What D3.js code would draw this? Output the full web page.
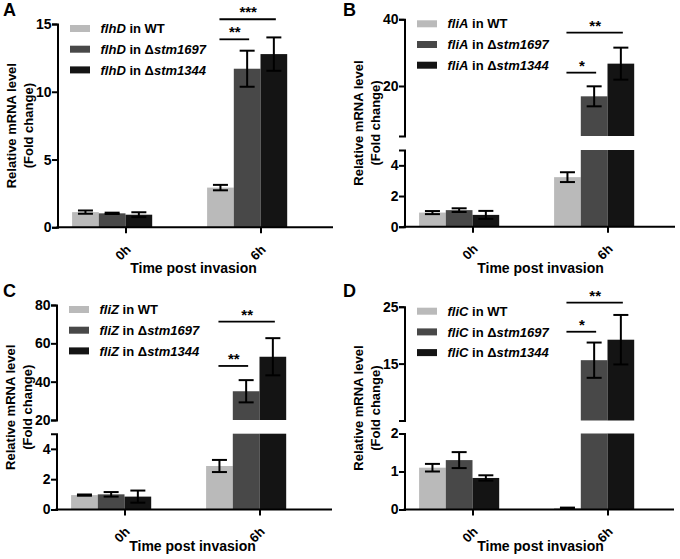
<!DOCTYPE html>
<html><head><meta charset="utf-8">
<script src="https://cdn.jsdelivr.net/npm/d3@7"></script>
<style>
body{margin:0;background:#fff}
svg{display:block}
text{font-family:"Liberation Sans",Arial,sans-serif;font-weight:bold;fill:#000}
</style>
</head><body>
<svg id="chart" width="680" height="559"></svg>
<script>
// ---------- data ----------
const timepoints = ["0h", "6h"];
const strains = ["WT", "stm1697", "stm1344"];
const panelLetters = ["A", "B", "C", "D"];
const genes = ["flhD", "fliA", "fliZ", "fliC"];
const xTitle = "Time post invasion";
const yTitle1 = "Relative mRNA level";
const yTitle2 = "(Fold change)";

// flhD (A)
const flhD_WT = [1.12, 2.93],  flhD_WT_err = [0.12, 0.20];
const flhD_1697 = [1.03, 11.7], flhD_1697_err = [0.05, 1.33];
const flhD_1344 = [0.93, 12.78], flhD_1344_err = [0.18, 1.23];
const flhD_ticks = [0, 5, 10, 15];

// fliA (B)
const fliA_WT = [0.92, 3.23],  fliA_WT_err = [0.10, 0.32];
const fliA_1697 = [1.08, 16.9], fliA_1697_err = [0.12, 3.0];
const fliA_1344 = [0.77, 26.7], fliA_1344_err = [0.26, 4.8];
const fliA_ticksLow = [0, 2, 4], fliA_ticksHigh = [20, 40];

// fliZ (C)
const fliZ_WT = [0.95, 2.87],  fliZ_WT_err = [0.04, 0.40];
const fliZ_1697 = [1.0, 35.0],  fliZ_1697_err = [0.15, 5.8];
const fliZ_1344 = [0.85, 53.0], fliZ_1344_err = [0.40, 9.7];
const fliZ_ticksLow = [0, 2, 4], fliZ_ticksHigh = [20, 40, 60, 80];

// fliC (D)
const fliC_WT = [1.10, 0.04],  fliC_WT_err = [0.10, 0.01];
const fliC_1697 = [1.30, 15.6], fliC_1697_err = [0.21, 3.1];
const fliC_1344 = [0.83, 19.2], fliC_1344_err = [0.07, 4.35];
const fliC_ticksLow = [0, 1, 2], fliC_ticksHigh = [15, 25];

// significance brackets at 6h: [from, to, level(value), label]
const flhD_sig = [["WT", "stm1344", 15.35, "***"], ["WT", "stm1697", 13.87, "**"]];
const fliA_sig = [["WT", "stm1344", 36.0, "**"], ["WT", "stm1697", 24.0, "*"]];
const fliZ_sig = [["WT", "stm1344", 71.3, "**"], ["WT", "stm1697", 48.2, "**"]];
const fliC_sig = [["WT", "stm1344", 25.7, "**"], ["WT", "stm1697", 20.6, "*"]];

// ---------- style / layout ----------
const colors = ["#bababa", "#484848", "#141414"];
const barW = 26.7;

const panels = [
  { letter: panelLetters[0], gene: genes[0], lx: 3, ly: 16,
    left: 57.5, right: 333, bottom: 227.3, top: 24, xTitleY: 273,
    means: [flhD_WT, flhD_1697, flhD_1344], errs: [flhD_WT_err, flhD_1697_err, flhD_1344_err],
    segments: [{ domain: [0, 15], range: [227.3, 24], ticks: flhD_ticks }], sig: flhD_sig },
  { letter: panelLetters[1], gene: genes[1], lx: 343, ly: 16,
    left: 404.5, right: 675, bottom: 226.7, top: 19.3, xTitleY: 273,
    means: [fliA_WT, fliA_1697, fliA_1344], errs: [fliA_WT_err, fliA_1697_err, fliA_1344_err],
    segments: [{ domain: [0, 5], range: [226.7, 150], ticks: fliA_ticksLow },
               { domain: [5, 40], range: [136, 19.3], ticks: fliA_ticksHigh }], sig: fliA_sig },
  { letter: panelLetters[2], gene: genes[2], lx: 3, ly: 297,
    left: 56.5, right: 332, bottom: 509.5, top: 305, xTitleY: 551,
    means: [fliZ_WT, fliZ_1697, fliZ_1344], errs: [fliZ_WT_err, fliZ_1697_err, fliZ_1344_err],
    segments: [{ domain: [0, 5], range: [509.5, 433.7], ticks: fliZ_ticksLow },
               { domain: [20, 80], range: [420, 305], ticks: fliZ_ticksHigh }], sig: fliZ_sig },
  { letter: panelLetters[3], gene: genes[3], lx: 343, ly: 297,
    left: 404.5, right: 674, bottom: 509.5, top: 306.7, xTitleY: 551,
    means: [fliC_WT, fliC_1697, fliC_1344], errs: [fliC_WT_err, fliC_1697_err, fliC_1344_err],
    segments: [{ domain: [0, 2], range: [509.5, 433.5], ticks: fliC_ticksLow },
               { domain: [5, 25], range: [420.5, 306.7], ticks: fliC_ticksHigh }], sig: fliC_sig }
];

const svg = d3.select("#chart");

function drawPanel(p) {
  const g = svg.append("g");
  const x = d3.scalePoint().domain(timepoints).range([p.left + 68, p.left + 203]);
  const inner = d3.scaleBand().domain(strains).range([-2 * barW, barW]);
  const segs = p.segments.map(s => Object.assign({}, s, { y: d3.scaleLinear().domain(s.domain).range(s.range) }));
  const cx = (tp, st) => x(tp) + inner(st) + barW / 2;

  // bars
  strains.forEach((st, si) => {
    timepoints.forEach((tp, ti) => {
      const v = p.means[si][ti];
      segs.forEach(s => {
        if (v > s.domain[0]) {
          const y0 = s.y(s.domain[0]), y1 = s.y(Math.min(v, s.domain[1]));
          g.append("rect")
            .attr("x", x(tp) + inner(st)).attr("width", barW)
            .attr("y", y1).attr("height", y0 - y1)
            .attr("fill", colors[si]);
        }
      });
    });
  });

  // error bars
  strains.forEach((st, si) => {
    timepoints.forEach((tp, ti) => {
      const v = p.means[si][ti], e = p.errs[si][ti];
      let seg = segs[0];
      segs.forEach(s => { if (v >= s.domain[0]) seg = s; });
      const c = cx(tp, st);
      const yHi = seg.y(v + e), yLo = seg.y(Math.max(v - e, seg.domain[0]));
      const eg = g.append("g").attr("stroke", "#000").attr("stroke-width", 2);
      eg.append("line").attr("x1", c).attr("x2", c).attr("y1", yHi).attr("y2", yLo);
      eg.append("line").attr("x1", c - 7.5).attr("x2", c + 7.5).attr("y1", yHi).attr("y2", yHi);
      eg.append("line").attr("x1", c - 7.5).attr("x2", c + 7.5).attr("y1", yLo).attr("y2", yLo);
    });
  });

  // y axis segments
  segs.forEach(s => {
    const ax = g.append("g").attr("transform", `translate(${p.left},0)`)
      .call(d3.axisLeft(s.y).tickValues(s.ticks).tickFormat(d3.format("d"))
        .tickSize(5.5).tickSizeOuter(5.5).tickPadding(0.5));
    ax.attr("font-family", null).attr("font-size", null);
    ax.select(".domain").attr("stroke", "#000").attr("stroke-width", 2);
    ax.selectAll(".tick line").attr("stroke", "#000").attr("stroke-width", 2);
    ax.selectAll(".tick text").style("font-size", "14px").attr("fill", "#000");
  });

  // x axis
  const xa = g.append("g").attr("transform", `translate(0,${p.bottom})`)
    .call(d3.axisBottom(x).tickSize(6).tickSizeOuter(0));
  xa.select(".domain").remove();
  xa.selectAll(".tick text").remove();
  xa.selectAll(".tick line").attr("stroke", "#000").attr("stroke-width", 2);
  g.append("line").attr("x1", p.left - 1).attr("x2", p.right)
    .attr("y1", p.bottom).attr("y2", p.bottom)
    .attr("stroke", "#000").attr("stroke-width", 2);
  timepoints.forEach(tp => {
    g.append("text")
      .attr("transform", `translate(${x(tp) + 6},${p.bottom + 23}) rotate(-45)`)
      .attr("text-anchor", "end").style("font-size", "13px").text(tp);
  });

  // x title
  g.append("text").attr("x", p.left + 136).attr("y", p.xTitleY)
    .attr("text-anchor", "middle").style("font-size", "14px").text(xTitle);

  // y title
  const ymid = (p.top + p.bottom) / 2;
  g.append("text").attr("transform", `translate(${p.left - 46 + 4.6},${ymid}) rotate(-90)`)
    .attr("text-anchor", "middle").style("font-size", "13px").text(yTitle1);
  g.append("text").attr("transform", `translate(${p.left - 29.5 + 4.6},${ymid}) rotate(-90)`)
    .attr("text-anchor", "middle").style("font-size", "13px").text(yTitle2);

  // significance
  const top = segs[segs.length - 1].y;
  p.sig.forEach(([a, b, lv, lab]) => {
    const x1 = cx("6h", a), x2 = cx("6h", b) + 2, yy = top(lv);
    g.append("line").attr("x1", x1 - 1).attr("x2", x2).attr("y1", yy).attr("y2", yy)
      .attr("stroke", "#000").attr("stroke-width", 1.8);
    g.append("text").attr("x", (x1 + x2) / 2).attr("y", yy - 2)
      .attr("text-anchor", "middle").style("font-size", "15px").text(lab);
  });

  // legend
  strains.forEach((st, i) => {
    const cy = p.top + 4.5 + 20.7 * i;
    g.append("rect").attr("x", p.left + 12.5).attr("y", cy - 3.5)
      .attr("width", 20).attr("height", 7).attr("fill", colors[i]);
    const t = g.append("text").attr("x", p.left + 43).attr("y", cy + 4.6).style("font-size", "13px");
    t.append("tspan").style("font-style", "italic").text(p.gene);
    t.append("tspan").text(" in ");
    if (st === "WT") {
      t.append("tspan").text("WT");
    } else {
      t.append("tspan").text("Δ");
      t.append("tspan").style("font-style", "italic").text(st);
    }
  });

  // panel letter
  svg.append("text").attr("x", p.lx).attr("y", p.ly).style("font-size", "18px").text(p.letter);
}

panels.forEach(drawPanel);
</script>
</body></html>
